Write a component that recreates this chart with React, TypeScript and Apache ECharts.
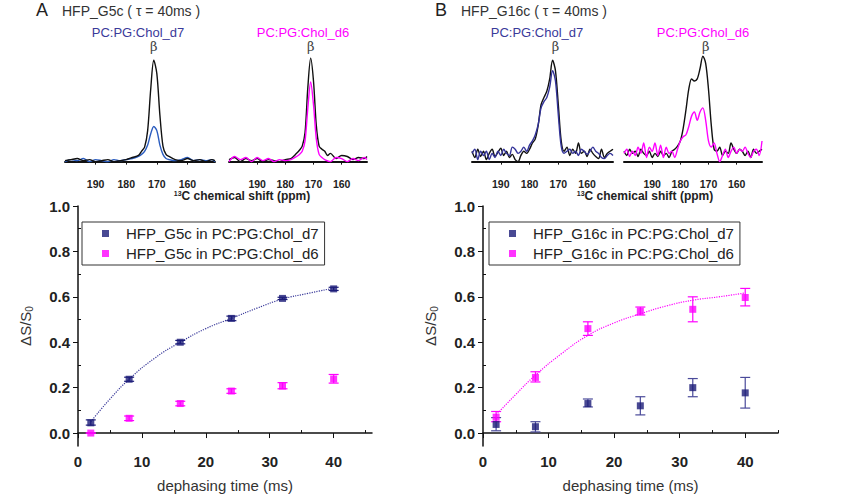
import React, { useEffect, useRef } from "react";
import * as echarts from "echarts";

const NAVY = "#1c1c78";
const MAG = "#ff00ff";

// Spectra (ppm, relative intensity)
const specA7Black = [[200,0.01],[198,0.02],[196,0.03],[194,0.01],[192,0.02],[190,0.0],[188,0.01],[186,0.02],[184,0.0],[182,0.01],[180,0.02],[178,0.04],[176,0.06],[175,0.1],[174,0.14],[173,0.3],[172,0.7],[171,0.98],[170,0.85],[169,0.45],[168,0.15],[167,0.07],[166,0.05],[164,0.02],[162,0.01],[160,0.03],[158,0.01],[156,0.02],[154,0.0],[152,0.02],[151,0.01]];
const specA7Blue = [[200,0.0],[198,0.02],[196,0.01],[194,0.03],[192,0.0],[190,0.02],[188,0.01],[186,0.0],[184,0.02],[182,0.01],[180,0.02],[178,0.03],[176,0.05],[175,0.07],[174,0.1],[173,0.16],[172,0.27],[171,0.34],[170,0.3],[169,0.16],[168,0.07],[167,0.03],[166,0.02],[164,0.01],[162,0.02],[160,0.04],[158,0.01],[156,0.02],[154,0.01],[152,0.02],[151,0.0]];
const specA6Black = [[200,0.02],[198,0.04],[196,0.0],[194,0.03],[192,0.01],[190,0.03],[188,0.0],[186,0.02],[184,0.01],[182,0.0],[180,0.02],[178,0.03],[176,0.08],[175,0.11],[174,0.15],[173,0.28],[172,0.72],[171,1.0],[170,0.78],[169,0.35],[168,0.15],[167,0.12],[166,0.1],[165,0.06],[164,0.08],[162,0.03],[160,0.06],[158,0.05],[156,0.02],[154,0.04],[152,0.03],[151,0.05]];
const specA6Mag = [[200,0.0],[198,0.05],[196,0.02],[194,0.04],[192,0.0],[190,0.04],[188,0.01],[186,0.03],[184,0.0],[182,0.02],[180,0.01],[178,0.02],[176,0.05],[175,0.07],[174,0.1],[173,0.2],[172,0.52],[171,0.77],[170,0.55],[169,0.22],[168,0.07],[167,0.04],[166,0.02],[164,0.0],[162,0.04],[160,0.03],[158,0.0],[156,0.03],[154,0.01],[152,0.04],[151,0.02]];
const specB7Black = [[200,0.1],[199,0.04],[198,0.12],[197,0.05],[196,0.1],[195,0.02],[194,0.08],[193,0.12],[192,0.05],[191,0.09],[190,0.13],[189,0.06],[188,0.1],[187,0.04],[186,0.07],[185,0.02],[184,0.0],[183,0.06],[182,0.1],[181,0.08],[180,0.12],[179,0.18],[178,0.22],[177,0.35],[176,0.55],[175,0.62],[174,0.68],[173,0.8],[172,0.98],[171,0.88],[170,0.55],[169,0.2],[168,0.1],[167,0.14],[166,0.06],[165,0.12],[164,0.08],[163,0.18],[162,0.08],[161,0.1],[160,0.05],[159,0.12],[158,0.08],[157,0.05],[156,0.03],[155,0.12],[154,0.04],[153,0.08],[152,0.1],[151,0.12]];
const specB7Blue = [[200,0.08],[199,0.12],[198,0.02],[197,0.1],[196,0.06],[195,0.1],[194,0.02],[193,0.08],[192,0.04],[191,0.1],[190,0.06],[189,0.12],[188,0.08],[187,0.06],[186,0.14],[185,0.12],[184,0.08],[183,0.1],[182,0.14],[181,0.1],[180,0.16],[179,0.2],[178,0.26],[177,0.36],[176,0.52],[175,0.58],[174,0.62],[173,0.72],[172,0.88],[171,0.78],[170,0.45],[169,0.15],[168,0.08],[167,0.1],[166,0.12],[165,0.08],[164,0.1],[163,0.06],[162,0.12],[161,0.1],[160,0.07],[159,0.1],[158,0.14],[157,0.1],[156,0.08],[155,0.04],[154,0.03],[153,0.06],[152,0.08],[151,0.06]];
const specB6Black = [[200,0.1],[199,0.06],[198,0.12],[197,0.08],[196,0.1],[195,0.05],[194,0.12],[193,0.08],[192,0.06],[191,0.1],[190,0.04],[189,0.08],[188,0.05],[187,0.1],[186,0.06],[185,0.08],[184,0.04],[183,0.1],[182,0.12],[181,0.15],[180,0.2],[179,0.32],[178,0.5],[177,0.7],[176,0.8],[175,0.78],[174,0.8],[173,0.9],[172,1.02],[171,0.95],[170,0.7],[169,0.35],[168,0.12],[167,0.1],[166,0.14],[165,0.06],[164,0.1],[163,0.08],[162,0.18],[161,0.12],[160,0.08],[159,0.12],[158,0.1],[157,0.06],[156,0.1],[155,0.04],[154,0.12],[153,0.08],[152,0.1],[151,0.12]];
const specB6Mag = [[200,0.08],[199,0.12],[198,0.05],[197,0.1],[196,0.06],[195,0.14],[194,0.08],[193,0.18],[192,0.04],[191,0.14],[190,0.1],[189,0.18],[188,0.06],[187,0.16],[186,0.04],[185,0.14],[184,0.08],[183,0.1],[182,0.04],[181,0.12],[180,0.2],[179,0.24],[178,0.26],[177,0.34],[176,0.44],[175,0.48],[174,0.4],[173,0.48],[172,0.52],[171,0.4],[170,0.2],[169,0.14],[168,0.18],[167,0.08],[166,0.0],[165,0.06],[164,0.12],[163,0.04],[162,0.1],[161,0.14],[160,0.08],[159,0.12],[158,0.1],[157,0.14],[156,0.08],[155,0.04],[154,0.1],[153,0.12],[152,0.06],[151,0.2]];

// Dephasing data
const times = [2, 8, 16, 24, 32, 40];
const a7 = [0.045, 0.237, 0.4, 0.505, 0.593, 0.635];
const a7Err = [[0.035,0.058],[0.228,0.246],[0.393,0.408],[0.495,0.515],[0.588,0.598],[0.628,0.642]];
const a6 = [0.0, 0.065, 0.13, 0.185, 0.207, 0.238];
const a6Err = [[0,0],[0.055,0.075],[0.12,0.14],[0.175,0.195],[0.195,0.222],[0.22,0.258]];
const aFit = [[2,0.05],[5,0.15],[8,0.237],[12,0.33],[16,0.4],[20,0.46],[24,0.505],[28,0.55],[32,0.59],[36,0.615],[40,0.638]];
const b7 = [0.038, 0.028, 0.13, 0.12, 0.2, 0.177];
const b7Err = [[0.01,0.068],[0.005,0.05],[0.115,0.15],[0.08,0.16],[0.16,0.24],[0.11,0.245]];
const b6 = [0.07, 0.245, 0.46, 0.537, 0.545, 0.597];
const b6Err = [[0.05,0.095],[0.225,0.27],[0.43,0.49],[0.52,0.555],[0.49,0.6],[0.56,0.637]];
const bFit = [[2,0.08],[5,0.17],[8,0.255],[12,0.35],[16,0.43],[20,0.485],[24,0.525],[28,0.56],[32,0.585],[36,0.6],[40,0.617]];

const ppmTicks = [190, 180, 170, 160];
const timeTicks = [0, 10, 20, 30, 40];
const timeMinor = [5, 15, 25, 35, 45];
const yTicks = [0, 0.2, 0.4, 0.6, 0.8, 1.0];
const yMinor = [0.1, 0.3, 0.5, 0.7, 0.9];

const FONT = "Liberation Sans, Arial, sans-serif";

export default function App() {
  const ref = useRef<HTMLDivElement>(null);
  useEffect(() => {
    document.body.style.margin = "0";
    const chart = echarts.init(ref.current!, undefined, { renderer: "svg" });
    const specGrids = [
      { left: 65, width: 150 },
      { left: 229, width: 138 },
      { left: 472, width: 141 },
      { left: 624, width: 138 },
    ];
    const grid: any[] = specGrids.map((g) => ({ left: g.left, width: g.width, top: 53, height: 119 }));
    grid.push({ left: 78, width: 294, top: 206, height: 240 });
    grid.push({ left: 483, width: 295, top: 206, height: 240 });

    const xAxis: any[] = specGrids.map((_, i) => ({
      type: "value", gridIndex: i, min: 151, max: 200, inverse: true,
      axisLine: { lineStyle: { color: "#111", width: 2 } },
      axisTick: { customValues: ppmTicks, length: 3, lineStyle: { color: "#111" } },
      axisLabel: { customValues: ppmTicks, fontSize: 10.5, fontWeight: "bold", color: "#222", fontFamily: FONT, margin: 6 },
      splitLine: { show: false },
    }));
    const yAxis: any[] = specGrids.map((_, i) => ({
      type: "value", gridIndex: i, min: -0.1, max: 1.05, show: false,
    }));
    const plotX = (gi: number, max: number) => [
      {
        type: "value", gridIndex: gi, min: 0, max,
        axisLine: { lineStyle: { color: "#111", width: 1.5 } },
        axisTick: { customValues: timeTicks, length: 5, lineStyle: { color: "#111" } },
        axisLabel: { customValues: timeTicks, fontSize: 15, fontWeight: "bold", color: "#222", fontFamily: FONT },
        splitLine: { show: false },
        name: "dephasing time (ms)", nameLocation: "middle", nameGap: 32,
        nameTextStyle: { fontSize: 15, color: "#333", fontFamily: FONT },
      },
      {
        type: "value", gridIndex: gi, min: 0, max,
        axisLine: { show: false },
        axisTick: { customValues: timeMinor, length: 3, lineStyle: { color: "#111" } },
        axisLabel: { show: false }, splitLine: { show: false },
      },
    ];
    const plotY = (gi: number) => [
      {
        type: "value", gridIndex: gi, min: -0.057, max: 1.0,
        axisLine: { show: true, lineStyle: { color: "#111", width: 1.5 } },
        axisTick: { show: true, customValues: yTicks, length: 5, lineStyle: { color: "#111" } },
        axisLabel: { customValues: yTicks, fontSize: 15, fontWeight: "bold", color: "#222", fontFamily: FONT, formatter: (v: number) => v.toFixed(1) },
        splitLine: { show: false },
        name: "{a|ΔS/S}{s|0}", nameLocation: "middle", nameGap: 44,
        nameTextStyle: { rich: { a: { fontSize: 15, color: "#333", fontFamily: FONT }, s: { fontSize: 10, color: "#333", verticalAlign: "bottom", padding: [8, 0, 0, 0], fontFamily: FONT } } },
      },
      {
        type: "value", gridIndex: gi, min: -0.057, max: 1.0,
        axisLine: { show: false },
        axisTick: { show: true, customValues: yMinor, length: 3, lineStyle: { color: "#111" } },
        axisLabel: { show: false }, splitLine: { show: false },
      },
    ];
    xAxis.push(...plotX(4, 46), ...plotX(5, 45));
    yAxis.push(...plotY(4), ...plotY(5));

    const specLine = (i: number, data: number[][], color: string, z = 2, beta = false) => ({
      type: "line", xAxisIndex: i, yAxisIndex: i, data, showSymbol: false, symbol: "none", smooth: 0.3,
      lineStyle: { color, width: 1.4 }, z,
      markPoint: beta ? {
        symbol: "circle", symbolSize: 0,
        label: { show: true, formatter: "β", color: "#444", fontSize: 13, fontFamily: "DejaVu Serif", offset: [0, -12] },
        data: [{ coord: [171, 1.0] }],
      } : undefined,
    });

    const errBar = (xi: number, yi: number, errs: number[][], color: string) => ({
      type: "custom", xAxisIndex: xi, yAxisIndex: yi,
      data: times.map((t, k) => [t, errs[k][0], errs[k][1]]),
      renderItem: (_p: any, api: any) => {
        const lo = api.coord([api.value(0), api.value(1)]);
        const hi = api.coord([api.value(0), api.value(2)]);
        const w = 5;
        const st = { stroke: color, lineWidth: 1.2 };
        return {
          type: "group",
          children: [
            { type: "line", shape: { x1: lo[0], y1: lo[1], x2: hi[0], y2: hi[1] }, style: st },
            { type: "line", shape: { x1: lo[0] - w, y1: lo[1], x2: lo[0] + w, y2: lo[1] }, style: st },
            { type: "line", shape: { x1: hi[0] - w, y1: hi[1], x2: hi[0] + w, y2: hi[1] }, style: st },
          ],
        };
      },
      z: 3,
    });
    const scatter = (xi: number, yi: number, name: string, vals: number[], color: string) => ({
      type: "scatter", name, xAxisIndex: xi, yAxisIndex: yi, symbol: "rect", symbolSize: 7,
      itemStyle: { color }, data: times.map((t, k) => [t, vals[k]]), z: 4,
    });
    const fit = (xi: number, yi: number, data: number[][], color: string) => ({
      type: "line", xAxisIndex: xi, yAxisIndex: yi, data, symbol: "none", smooth: true,
      lineStyle: { color, width: 1.2, type: "dotted" }, z: 2,
    });

    const nA7 = "HFP_G5c in PC:PG:Chol_d7";
    const nA6 = "HFP_G5c in PC:PG:Chol_d6";
    const nB7 = "HFP_G16c in PC:PG:Chol_d7";
    const nB6 = "HFP_G16c in PC:PG:Chol_d6";

    const legendBase = {
      orient: "vertical", top: 222, itemWidth: 7, itemHeight: 7, itemGap: 5, icon: "rect",
      borderColor: "#333", borderWidth: 1, padding: [4, 6, 4, 20],
      textStyle: { fontSize: 15, color: "#222", fontFamily: FONT, padding: [0, 0, 0, 12] },
    };

    const txt = (x: number, y: number, text: string, fill: string, size: number, extra: any = {}) => ({
      type: "text", x, y, style: { text, fill, fontSize: size, fontFamily: FONT, ...extra },
    });
    const chemLabel = (cx: number) => ({
      type: "text", x: cx, y: 190,
      style: {
        text: "{sup|13}{b|C chemical shift (ppm)}", align: "center",
        rich: { sup: { fontSize: 7, fontWeight: "bold", fill: "#222", verticalAlign: "top", fontFamily: FONT }, b: { fontSize: 12, fontWeight: "bold", fill: "#222", fontFamily: FONT } },
      },
    });

    chart.setOption({
      animation: false,
      grid,
      xAxis,
      yAxis,
      legend: [
        { ...legendBase, left: 82, data: [nA7, nA6] },
        { ...legendBase, left: 489, data: [nB7, nB6] },
      ],
      graphic: [
        txt(36, 1, "A", "#222", 18),
        txt(62, 4, "HFP_G5c ( τ = 40ms )", "#333", 14),
        txt(435, 1, "B", "#222", 18),
        txt(461, 4, "HFP_G16c ( τ = 40ms )", "#333", 14),
        txt(138, 26, "PC:PG:Chol_d7", "#3a3a9a", 13, { align: "center" }),
        txt(303, 26, "PC:PG:Chol_d6", MAG, 13, { align: "center" }),
        txt(537, 26, "PC:PG:Chol_d7", "#3a3a9a", 13, { align: "center" }),
        txt(703, 26, "PC:PG:Chol_d6", MAG, 13, { align: "center" }),
        chemLabel(242),
        chemLabel(645),
      ],
      series: [
        specLine(0, specA7Blue, "#2a5cbf", 2),
        specLine(0, specA7Black, "#111", 3, true),
        specLine(1, specA6Black, "#111", 2, true),
        specLine(1, specA6Mag, MAG, 3),
        specLine(2, specB7Black, "#111", 2, true),
        specLine(2, specB7Blue, "#333399", 3),
        specLine(3, specB6Black, "#111", 2, true),
        specLine(3, specB6Mag, MAG, 3),
        fit(4, 4, aFit, "#3a3a9a"),
        errBar(4, 4, a7Err, NAVY),
        errBar(4, 4, a6Err, MAG),
        scatter(4, 4, nA7, a7, NAVY),
        scatter(4, 4, nA6, a6, MAG),
        fit(6, 6, bFit, MAG),
        errBar(6, 6, b7Err, "#4a4a9a"),
        errBar(6, 6, b6Err, MAG),
        scatter(6, 6, nB7, b7, NAVY),
        scatter(6, 6, nB6, b6, MAG),
      ],
    });
    return () => chart.dispose();
  }, []);
  return <div ref={ref} style={{ width: 843, height: 504 }} />;
}
